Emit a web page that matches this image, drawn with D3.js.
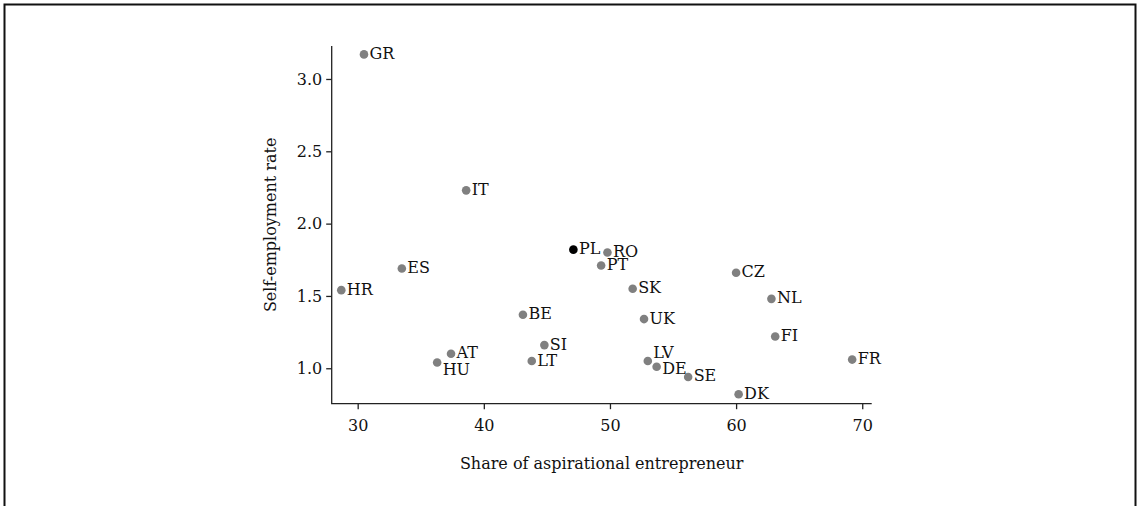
<!DOCTYPE html>
<html>
<head>
<meta charset="utf-8">
<script src="https://cdn.jsdelivr.net/npm/d3@7"></script>
<style>
  html, body { margin: 0; padding: 0; background: #fff; }
  svg { display: block; }
  text { font-family: "DejaVu Serif", "Liberation Serif", serif; }
</style>
</head>
<body>
<svg id="chart" width="1137" height="506"></svg>
<script>
// ---- data ----
const countries = ["GR","IT","ES","HR","PL","RO","PT","SK","CZ","NL","BE","UK","FI","SI","AT","HU","LT","LV","DE","SE","DK","FR"];
const aspirationalShare = [30.5,38.6,33.5,28.7,47.1,49.8,49.3,51.8,60.0,62.8,43.1,52.7,63.1,44.8,37.4,36.3,43.8,53.0,53.7,56.2,60.2,69.2];
const selfEmploymentRate = [3.17,2.23,1.69,1.54,1.82,1.80,1.71,1.55,1.66,1.48,1.37,1.34,1.22,1.16,1.10,1.04,1.05,1.05,1.01,0.94,0.82,1.06];
const highlighted = ["PL"];
const xTicks = [30,40,50,60,70];
const yTicks = [1.0,1.5,2.0,2.5,3.0];
const xTitle = "Share of aspirational entrepreneur";
const yTitle = "Self-employment rate";

// label nudges (layout only)
const labelNudge = { HU: 8, LV: -8, DE: 2.5 };

const svg = d3.select("#chart");

// outer frame
svg.append("rect")
  .attr("x", 4.5).attr("y", 4.5)
  .attr("width", 1131).attr("height", 700)
  .attr("fill", "none").attr("stroke", "#111").attr("stroke-width", 2);

const x = d3.scaleLinear().domain([27.94, 70.75]).range([331.7, 871.7]);
const y = d3.scaleLinear().domain([0.755, 3.228]).range([403.7, 46]);

const fs = 16;

const xAxis = svg.append("g")
  .attr("transform", `translate(0,${y.range()[0]})`)
  .call(d3.axisBottom(x).tickValues(xTicks).tickFormat(d3.format("d")).tickSizeOuter(0).tickSize(5.5).tickPadding(10));
const yAxis = svg.append("g")
  .attr("transform", `translate(${x.range()[0]},0)`)
  .call(d3.axisLeft(y).tickValues(yTicks).tickFormat(d3.format(".1f")).tickSizeOuter(0).tickSize(5.5).tickPadding(4));

[xAxis, yAxis].forEach(g => {
  g.select(".domain").remove();
  g.selectAll(".tick line").attr("stroke", "#222").attr("stroke-width", 1.3);
  g.selectAll(".tick text").attr("fill", "#111").style("font-size", fs + "px")
    .style("font-family", '"DejaVu Serif", serif');
});

// axis lines forming an L at the corner
const [x0, x1] = x.range();
const [y0, y1] = y.range();
svg.append("path")
  .attr("d", d3.line()([[x0, y1], [x0, y0], [x1, y0]]))
  .attr("fill", "none").attr("stroke", "#222").attr("stroke-width", 1.3);

// axis titles
svg.append("text")
  .attr("x", (x0 + x1) / 2).attr("y", 469)
  .attr("text-anchor", "middle").attr("fill", "#111")
  .style("font-size", fs + "px").text(xTitle);
svg.append("text")
  .attr("transform", `translate(276,${(y0 + y1) / 2}) rotate(-90)`)
  .attr("text-anchor", "middle").attr("fill", "#111")
  .style("font-size", fs + "px").text(yTitle);

const pts = countries.map((c, i) => ({ c, xv: aspirationalShare[i], yv: selfEmploymentRate[i] }));

svg.append("g").selectAll("circle").data(pts).join("circle")
  .attr("cx", d => x(d.xv)).attr("cy", d => y(d.yv)).attr("r", 4.3)
  .attr("fill", d => highlighted.includes(d.c) ? "#000" : "#808080");

svg.append("g").selectAll("text").data(pts).join("text")
  .attr("x", d => x(d.xv) + 5.5)
  .attr("y", d => y(d.yv) + 4.5 + (labelNudge[d.c] || 0))
  .attr("fill", "#111").style("font-size", fs + "px")
  .text(d => d.c);
</script>
</body>
</html>
